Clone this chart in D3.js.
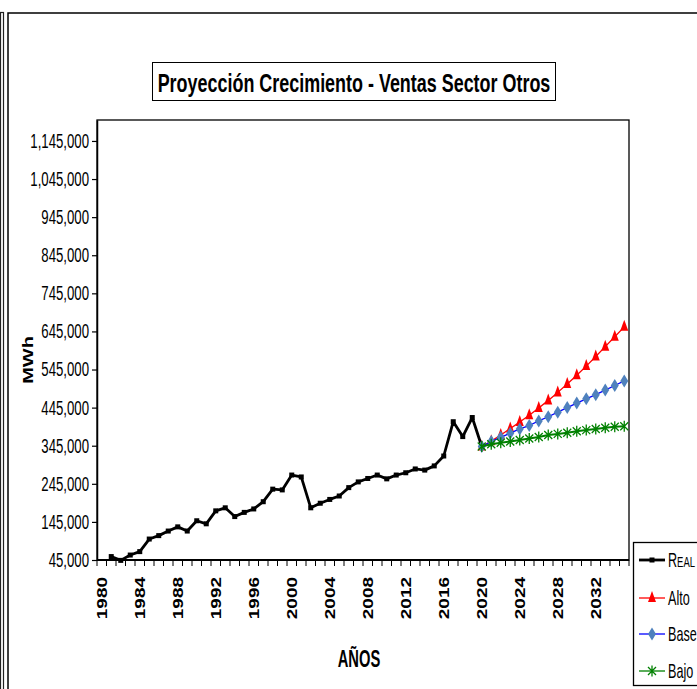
<!DOCTYPE html>
<html>
  <head>
    <meta charset="utf-8">
    <title>Proyección Crecimiento - Ventas Sector Otros</title>
    <script src="https://d3js.org/d3.v7.min.js"></script>
    <style>
      body { margin: 0; background: #fff; }
      svg { display: block; font-family: "Liberation Sans", Arial, sans-serif; }
    </style>
  </head>
  <body>
    <div id="chart"></div>
    <script>
      // category axis runs 1980..2035, one band per year
      const years = d3.range(1980, 2036);
      const labelYears = [1980, 1984, 1988, 1992, 1996, 2000, 2004, 2008, 2012, 2016, 2020, 2024, 2028, 2032];
      const yTicks = [45000, 145000, 245000, 345000, 445000, 545000, 645000, 745000, 845000, 945000, 1045000, 1145000];

      const realStart = 1981;
      const realValues = [54000, 44000, 58000, 67000, 100000, 109000, 121000, 132000, 121000, 148000,
        140000, 174000, 182000, 159000, 170000, 179000, 198000, 231000, 229000, 268000,
        263000, 182000, 194000, 204000, 213000, 235000, 250000, 259000, 268000, 258000,
        268000, 274000, 284000, 281000, 292000, 318000, 408000, 369000, 419000, 343000];

      const projStart = 2020;
      const altoValues = [343000, 357000, 373000, 390000, 407000, 425000, 444000, 464000,
        485000, 507000, 530000, 554000, 579000, 605000, 631000, 657000];
      const baseValues = [343000, 356000, 367000, 378000, 389000, 398000, 410000, 421000,
        433000, 445000, 457000, 468000, 479000, 491000, 503000, 515000];
      const bajoValues = [343000, 349000, 353000, 356000, 360000, 364000, 368000, 373000,
        376000, 379000, 383000, 386000, 389000, 392000, 395000, 396000];

      const SQ = 0.71; // the whole picture is squeezed horizontally
      const W = 697, H = 689;

      const svg = d3.select("#chart").append("svg")
          .attr("width", W)
          .attr("height", H);

      // outer frames
      svg.append("rect").attr("x", 0.5).attr("y", 12.5).attr("width", 3).attr("height", H)
          .attr("fill", "none").attr("stroke", "#222").attr("stroke-width", 1.2);
      svg.append("rect").attr("x", 8).attr("y", 13).attr("width", W).attr("height", H)
          .attr("fill", "none").attr("stroke", "#000").attr("stroke-width", 1.5);

      const x = d3.scaleBand().domain(years).range([97, 629]);
      const y = d3.scaleLinear().domain([45000, 1200000]).range([560, 120]);
      const cx = yr => x(yr) + x.bandwidth() / 2;

      // plot area border
      svg.append("rect").attr("x", 97).attr("y", 120).attr("width", 532).attr("height", 440)
          .attr("fill", "none").attr("stroke", "#000").attr("stroke-width", 1.3);

      // title
      svg.append("rect").attr("x", 152.5).attr("y", 62.5).attr("width", 403).attr("height", 38)
          .attr("fill", "#fff").attr("stroke", "#000").attr("stroke-width", 1);
      svg.append("text")
          .attr("transform", "translate(354,92) scale(0.69,1)")
          .attr("text-anchor", "middle")
          .attr("font-weight", "bold")
          .attr("font-size", 26)
          .text("Proyección Crecimiento - Ventas Sector Otros");

      // y axis
      const yAxis = svg.append("g")
          .attr("transform", "translate(97,0)")
          .call(d3.axisLeft(y).tickValues(yTicks).tickSize(5).tickSizeOuter(0).tickFormat(d3.format(",")));
      yAxis.select(".domain").attr("stroke-width", 1.5);
      yAxis.selectAll(".tick line").attr("stroke-width", 1.2);
      yAxis.selectAll("text")
          .attr("x", -8 / 0.66)
          .attr("transform", "scale(0.66,1)")
          .attr("font-size", 20)
          .attr("font-family", "Liberation Sans, Arial, sans-serif")
          .attr("fill", "#000");

      // x axis: labels only, ticks between categories drawn below
      const xAxis = svg.append("g")
          .attr("transform", "translate(0,560)")
          .call(d3.axisBottom(x).tickValues(labelYears).tickSize(0));
      xAxis.select(".domain").remove();
      xAxis.selectAll("text")
          .attr("transform", "rotate(-90) scale(1,0.78)")
          .attr("text-anchor", "end")
          .attr("x", -17)
          .attr("y", 0)
          .attr("dy", "0.36em")
          .attr("font-size", 19)
          .attr("font-weight", "bold")
          .attr("font-family", "Liberation Sans, Arial, sans-serif")
          .attr("fill", "#000");

      svg.append("g").selectAll("line")
          .data(years.map(d => x(d)).concat([629]))
          .join("line")
          .attr("x1", d => d).attr("x2", d => d)
          .attr("y1", 560).attr("y2", 566)
          .attr("stroke", "#000").attr("stroke-width", 1);
      svg.append("line").attr("x1", 97).attr("x2", 629).attr("y1", 560).attr("y2", 560)
          .attr("stroke", "#000").attr("stroke-width", 1.8);

      // axis titles
      svg.append("text")
          .attr("transform", `translate(33,360) rotate(-90) scale(1,0.74)`)
          .attr("text-anchor", "middle")
          .attr("font-weight", "bold")
          .attr("font-size", 20)
          .text("MWh");
      svg.append("text")
          .attr("transform", "translate(359,667) scale(0.64,1)")
          .attr("text-anchor", "middle")
          .attr("font-weight", "bold")
          .attr("font-size", 23)
          .text("AÑOS");

      const toPoints = (start, vals) => vals.map((v, i) => ({year: start + i, value: v}));
      const line = d3.line().x(d => cx(d.year)).y(d => y(d.value));

      const triangle = "M0,-7L4,4L-4,4Z";
      const diamond = "M0,-6.5L4,0L0,6.5L-4,0Z";
      const star = "M0,-5.5V5.5M-4,-4L4,4M-4,4L4,-4";

      const series = [
        {name: "REAL", data: toPoints(realStart, realValues), color: "#000", width: 2.8},
        {name: "Alto", data: toPoints(projStart, altoValues), color: "#ff0000", width: 1.3},
        {name: "Base", data: toPoints(projStart, baseValues), color: "#0000ff", width: 1.3},
        {name: "Bajo", data: toPoints(projStart, bajoValues), color: "#008000", width: 2}
      ];

      function drawMarker(g, name) {
        if (name === "REAL") {
          g.append("rect").attr("x", -2.5).attr("y", -2.5).attr("width", 5).attr("height", 5).attr("fill", "#000");
        } else if (name === "Alto") {
          g.append("path").attr("d", triangle).attr("fill", "#ff0000");
        } else if (name === "Base") {
          g.append("path").attr("d", diamond).attr("fill", "#4f81bd");
        } else {
          g.append("path").attr("d", star).attr("stroke", "#008000").attr("stroke-width", 1.3).attr("fill", "none");
        }
      }

      series.forEach(s => {
        svg.append("path")
            .datum(s.data)
            .attr("fill", "none")
            .attr("stroke", s.color)
            .attr("stroke-width", s.width)
            .attr("stroke-linejoin", "round")
            .attr("d", line);
        svg.append("g").selectAll("g")
            .data(s.data)
            .join("g")
            .attr("transform", d => `translate(${cx(d.year)},${y(d.value)})`)
            .each(function() { drawMarker(d3.select(this), s.name); });
      });

      // legend
      svg.append("rect").attr("x", 633.5).attr("y", 542.5).attr("width", 80).attr("height", 143)
          .attr("fill", "#fff").attr("stroke", "#000").attr("stroke-width", 1.3);
      const legendY = [560, 598, 634, 671];
      series.forEach((s, i) => {
        const g = svg.append("g").attr("transform", `translate(0,${legendY[i]})`);
        g.append("line").attr("x1", 639).attr("x2", 665).attr("y1", 0).attr("y2", 0)
            .attr("stroke", s.color).attr("stroke-width", s.name === "REAL" ? 2.8 : 1.3);
        const m = g.append("g").attr("transform", "translate(652,0)");
        drawMarker(m, s.name);
        const t = g.append("text")
            .attr("transform", "translate(668,7) scale(0.63,1)")
            .attr("font-size", 20);
        if (s.name === "REAL") {
          t.append("tspan").text("R");
          t.append("tspan").attr("font-size", 15).text("EAL");
        } else {
          t.text(s.name);
        }
      });
    </script>
  </body>
</html>
